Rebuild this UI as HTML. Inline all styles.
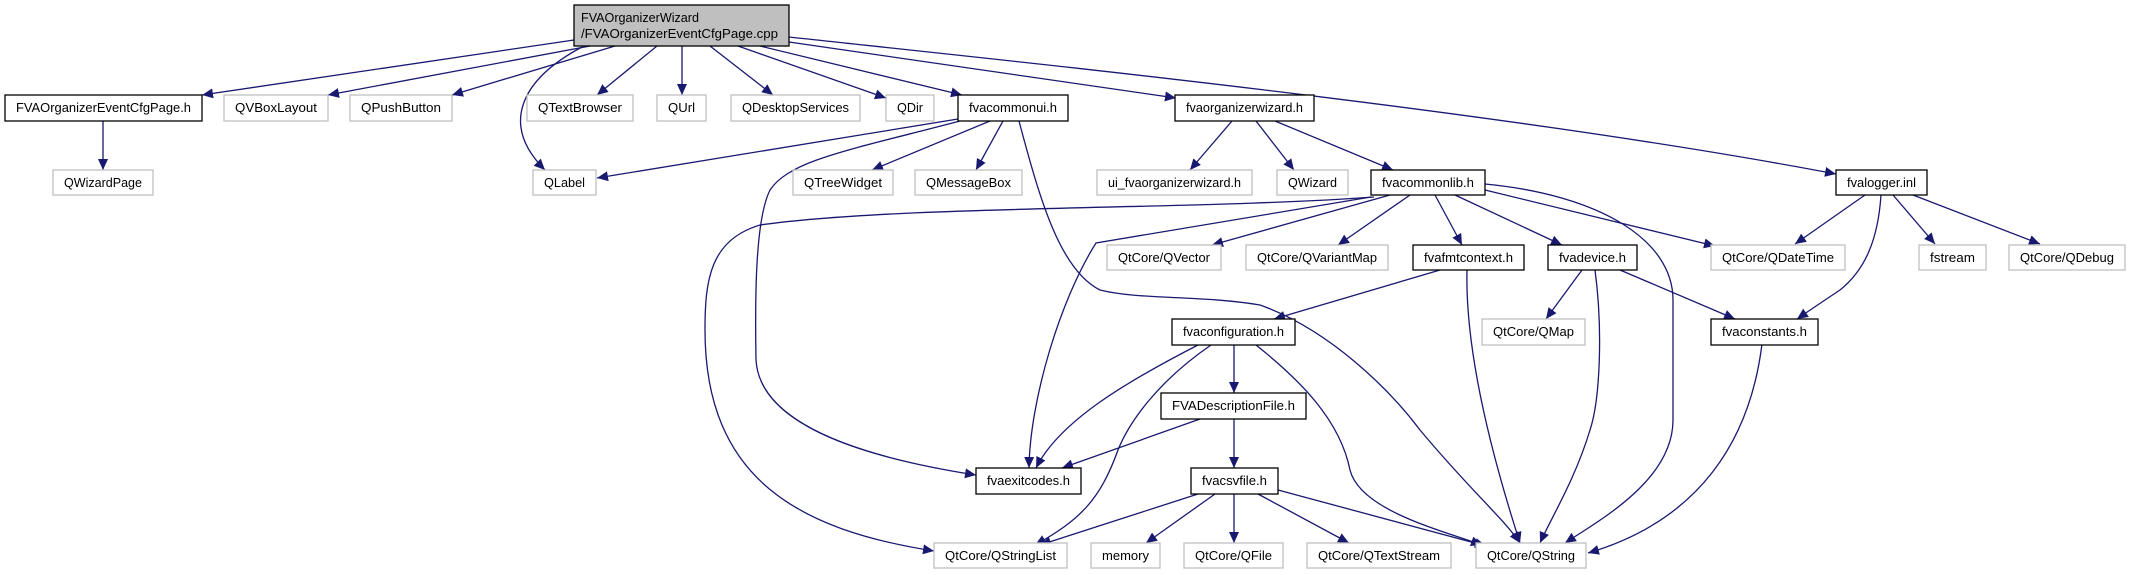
<!DOCTYPE html>
<html><head><meta charset="utf-8"><style>
html,body{margin:0;padding:0;background:#fff;}
svg{display:block;}
text{font-family:"Liberation Sans",Arial,sans-serif;font-size:12.5px;fill:#000;}
.g{fill:#fff;stroke:#bfbfbf;stroke-width:1.3;}
.b{fill:#fff;stroke:#000;stroke-width:1.3;}
.e{fill:none;stroke:#191970;stroke-width:1.3;}
</style></head><body>
<svg width="2130" height="575" viewBox="0 0 2130 575" xmlns="http://www.w3.org/2000/svg">
<defs>
<marker id="a" markerUnits="userSpaceOnUse" markerWidth="12" markerHeight="10" viewBox="0 0 12 10" refX="11" refY="5" orient="auto">
<path d="M0,0 L11,5 L0,10 Z" fill="#191970"/>
</marker>
</defs>
<g class="edges">
<path class="e" d="M574,40 L202,95" marker-end="url(#a)"/>
<path class="e" d="M590,46 L328,95" marker-end="url(#a)"/>
<path class="e" d="M615,46 L452,95" marker-end="url(#a)"/>
<path class="e" d="M582,47 C520,80 500,125 545,170" marker-end="url(#a)"/>
<path class="e" d="M657,46 L597,95" marker-end="url(#a)"/>
<path class="e" d="M682,46 L682,95" marker-end="url(#a)"/>
<path class="e" d="M710,46 L773,95" marker-end="url(#a)"/>
<path class="e" d="M738,46 L886,98" marker-end="url(#a)"/>
<path class="e" d="M760,46 L962,95" marker-end="url(#a)"/>
<path class="e" d="M789,42 L1176,98" marker-end="url(#a)"/>
<path class="e" d="M789,37 C1000,60 1500,110 1836,174" marker-end="url(#a)"/>
<path class="e" d="M103,121 L103,170" marker-end="url(#a)"/>
<path class="e" d="M958,119 L597,178" marker-end="url(#a)"/>
<path class="e" d="M990,121 L872,170" marker-end="url(#a)"/>
<path class="e" d="M1003,121 L976,170" marker-end="url(#a)"/>
<path class="e" d="M960,121 C850,150 790,160 770,190 C755,220 755,300 756,360 C760,430 880,460 976,475" marker-end="url(#a)"/>
<path class="e" d="M1019,121 C1040,200 1060,270 1100,290 C1140,300 1200,295 1260,305 C1330,330 1390,390 1420,430 C1470,490 1505,520 1520,543" marker-end="url(#a)"/>
<path class="e" d="M1232,121 L1190,170" marker-end="url(#a)"/>
<path class="e" d="M1256,121 L1294,170" marker-end="url(#a)"/>
<path class="e" d="M1275,121 L1393,170" marker-end="url(#a)"/>
<path class="e" d="M1371,197 L1096,243 C1060,300 1030,400 1029,468" marker-end="url(#a)"/>
<path class="e" d="M1374,197 C1200,210 900,205 760,225 C710,240 705,280 705,330 C705,480 800,530 934,551" marker-end="url(#a)"/>
<path class="e" d="M1390,195 L1212,245" marker-end="url(#a)"/>
<path class="e" d="M1410,195 L1338,245" marker-end="url(#a)"/>
<path class="e" d="M1435,195 L1462,245" marker-end="url(#a)"/>
<path class="e" d="M1455,195 L1562,245" marker-end="url(#a)"/>
<path class="e" d="M1485,190 L1715,246" marker-end="url(#a)"/>
<path class="e" d="M1485,184 C1600,195 1673,240 1673,300 L1673,420 C1673,480 1600,520 1565,543" marker-end="url(#a)"/>
<path class="e" d="M1440,270 L1274,319" marker-end="url(#a)"/>
<path class="e" d="M1467,270 C1465,350 1490,450 1520,543" marker-end="url(#a)"/>
<path class="e" d="M1582,270 L1546,319" marker-end="url(#a)"/>
<path class="e" d="M1595,270 C1603,330 1600,400 1590,430 C1575,480 1550,520 1540,543" marker-end="url(#a)"/>
<path class="e" d="M1620,270 L1735,319" marker-end="url(#a)"/>
<path class="e" d="M1865,195 L1795,244" marker-end="url(#a)"/>
<path class="e" d="M1881,195 C1878,240 1865,270 1840,290 C1825,300 1810,310 1797,319" marker-end="url(#a)"/>
<path class="e" d="M1893,195 L1935,244" marker-end="url(#a)"/>
<path class="e" d="M1913,195 L2040,244" marker-end="url(#a)"/>
<path class="e" d="M1762,344 C1750,440 1700,520 1588,553" marker-end="url(#a)"/>
<path class="e" d="M1198,345 C1130,380 1060,420 1036,468" marker-end="url(#a)"/>
<path class="e" d="M1211,345 C1160,380 1130,420 1118,450 C1100,500 1080,520 1035,545" marker-end="url(#a)"/>
<path class="e" d="M1234,345 L1234,393" marker-end="url(#a)"/>
<path class="e" d="M1256,345 C1300,380 1340,420 1350,470 C1360,510 1440,530 1482,545" marker-end="url(#a)"/>
<path class="e" d="M1200,419 L1062,468" marker-end="url(#a)"/>
<path class="e" d="M1234,419 L1234,468" marker-end="url(#a)"/>
<path class="e" d="M1198,494 L1040,545" marker-end="url(#a)"/>
<path class="e" d="M1215,494 L1146,543" marker-end="url(#a)"/>
<path class="e" d="M1234,494 L1234,543" marker-end="url(#a)"/>
<path class="e" d="M1258,494 L1349,543" marker-end="url(#a)"/>
<path class="e" d="M1278,490 L1486,546" marker-end="url(#a)"/>
</g>

<rect x="574" y="5" width="215" height="41" fill="#bfbfbf" stroke="#000" stroke-width="1.3"/>
<text x="581" y="22" textLength="118" lengthAdjust="spacingAndGlyphs">FVAOrganizerWizard</text>
<text x="581" y="38" textLength="197" lengthAdjust="spacingAndGlyphs">/FVAOrganizerEventCfgPage.cpp</text>

<rect class="b" x="5" y="95" width="197" height="26"/><text x="103.5" y="112" text-anchor="middle" textLength="175" lengthAdjust="spacingAndGlyphs">FVAOrganizerEventCfgPage.h</text>
<rect class="g" x="224" y="95" width="104" height="26"/><text x="276" y="112" text-anchor="middle" textLength="82" lengthAdjust="spacingAndGlyphs">QVBoxLayout</text>
<rect class="g" x="350" y="95" width="102" height="26"/><text x="401" y="112" text-anchor="middle" textLength="80" lengthAdjust="spacingAndGlyphs">QPushButton</text>
<rect class="g" x="527" y="95" width="106" height="26"/><text x="580" y="112" text-anchor="middle" textLength="84" lengthAdjust="spacingAndGlyphs">QTextBrowser</text>
<rect class="g" x="657" y="95" width="49" height="26"/><text x="681.5" y="112" text-anchor="middle" textLength="27" lengthAdjust="spacingAndGlyphs">QUrl</text>
<rect class="g" x="731" y="95" width="129" height="26"/><text x="795.5" y="112" text-anchor="middle" textLength="107" lengthAdjust="spacingAndGlyphs">QDesktopServices</text>
<rect class="g" x="886" y="95" width="48" height="26"/><text x="910" y="112" text-anchor="middle" textLength="26" lengthAdjust="spacingAndGlyphs">QDir</text>
<rect class="b" x="958" y="95" width="110" height="26"/><text x="1013" y="112" text-anchor="middle" textLength="88" lengthAdjust="spacingAndGlyphs">fvacommonui.h</text>
<rect class="b" x="1175" y="95" width="139" height="26"/><text x="1244.5" y="112" text-anchor="middle" textLength="117" lengthAdjust="spacingAndGlyphs">fvaorganizerwizard.h</text>

<rect class="g" x="53" y="170" width="100" height="25"/><text x="103" y="187" text-anchor="middle" textLength="78" lengthAdjust="spacingAndGlyphs">QWizardPage</text>
<rect class="g" x="533" y="170" width="63" height="25"/><text x="564.5" y="187" text-anchor="middle" textLength="41" lengthAdjust="spacingAndGlyphs">QLabel</text>
<rect class="g" x="793" y="170" width="100" height="25"/><text x="843" y="187" text-anchor="middle" textLength="78" lengthAdjust="spacingAndGlyphs">QTreeWidget</text>
<rect class="g" x="915" y="170" width="107" height="25"/><text x="968.5" y="187" text-anchor="middle" textLength="85" lengthAdjust="spacingAndGlyphs">QMessageBox</text>
<rect class="g" x="1097" y="170" width="155" height="25"/><text x="1174.5" y="187" text-anchor="middle" textLength="133" lengthAdjust="spacingAndGlyphs">ui_fvaorganizerwizard.h</text>
<rect class="g" x="1277" y="170" width="71" height="25"/><text x="1312.5" y="187" text-anchor="middle" textLength="49" lengthAdjust="spacingAndGlyphs">QWizard</text>
<rect class="b" x="1371" y="170" width="114" height="25"/><text x="1428" y="187" text-anchor="middle" textLength="92" lengthAdjust="spacingAndGlyphs">fvacommonlib.h</text>
<rect class="b" x="1836" y="170" width="91" height="25"/><text x="1881.5" y="187" text-anchor="middle" textLength="69" lengthAdjust="spacingAndGlyphs">fvalogger.inl</text>

<rect class="g" x="1107" y="245" width="114" height="25"/><text x="1164" y="262" text-anchor="middle" textLength="92" lengthAdjust="spacingAndGlyphs">QtCore/QVector</text>
<rect class="g" x="1246" y="245" width="142" height="25"/><text x="1317" y="262" text-anchor="middle" textLength="120" lengthAdjust="spacingAndGlyphs">QtCore/QVariantMap</text>
<rect class="b" x="1413" y="245" width="111" height="25"/><text x="1468.5" y="262" text-anchor="middle" textLength="89" lengthAdjust="spacingAndGlyphs">fvafmtcontext.h</text>
<rect class="b" x="1548" y="245" width="89" height="25"/><text x="1592.5" y="262" text-anchor="middle" textLength="67" lengthAdjust="spacingAndGlyphs">fvadevice.h</text>
<rect class="g" x="1711" y="245" width="134" height="25"/><text x="1778" y="262" text-anchor="middle" textLength="112" lengthAdjust="spacingAndGlyphs">QtCore/QDateTime</text>
<rect class="g" x="1919" y="245" width="67" height="25"/><text x="1952.5" y="262" text-anchor="middle" textLength="45" lengthAdjust="spacingAndGlyphs">fstream</text>
<rect class="g" x="2009" y="245" width="116" height="25"/><text x="2067" y="262" text-anchor="middle" textLength="94" lengthAdjust="spacingAndGlyphs">QtCore/QDebug</text>

<rect class="b" x="1172" y="319" width="123" height="26"/><text x="1233.5" y="336" text-anchor="middle" textLength="101" lengthAdjust="spacingAndGlyphs">fvaconfiguration.h</text>
<rect class="g" x="1482" y="319" width="103" height="26"/><text x="1533.5" y="336" text-anchor="middle" textLength="81" lengthAdjust="spacingAndGlyphs">QtCore/QMap</text>
<rect class="b" x="1711" y="319" width="107" height="26"/><text x="1764.5" y="336" text-anchor="middle" textLength="85" lengthAdjust="spacingAndGlyphs">fvaconstants.h</text>

<rect class="b" x="1161" y="393" width="145" height="26"/><text x="1233.5" y="410" text-anchor="middle" textLength="123" lengthAdjust="spacingAndGlyphs">FVADescriptionFile.h</text>

<rect class="b" x="976" y="468" width="105" height="26"/><text x="1028.5" y="485" text-anchor="middle" textLength="83" lengthAdjust="spacingAndGlyphs">fvaexitcodes.h</text>
<rect class="b" x="1191" y="468" width="87" height="26"/><text x="1234.5" y="485" text-anchor="middle" textLength="65" lengthAdjust="spacingAndGlyphs">fvacsvfile.h</text>

<rect class="g" x="934" y="543" width="133" height="25"/><text x="1000.5" y="560" text-anchor="middle" textLength="111" lengthAdjust="spacingAndGlyphs">QtCore/QStringList</text>
<rect class="g" x="1091" y="543" width="69" height="25"/><text x="1125.5" y="560" text-anchor="middle" textLength="47" lengthAdjust="spacingAndGlyphs">memory</text>
<rect class="g" x="1184" y="543" width="99" height="25"/><text x="1233.5" y="560" text-anchor="middle" textLength="77" lengthAdjust="spacingAndGlyphs">QtCore/QFile</text>
<rect class="g" x="1307" y="543" width="144" height="25"/><text x="1379" y="560" text-anchor="middle" textLength="122" lengthAdjust="spacingAndGlyphs">QtCore/QTextStream</text>
<rect class="g" x="1476" y="543" width="110" height="25"/><text x="1531" y="560" text-anchor="middle" textLength="88" lengthAdjust="spacingAndGlyphs">QtCore/QString</text>
</svg>
</body></html>
